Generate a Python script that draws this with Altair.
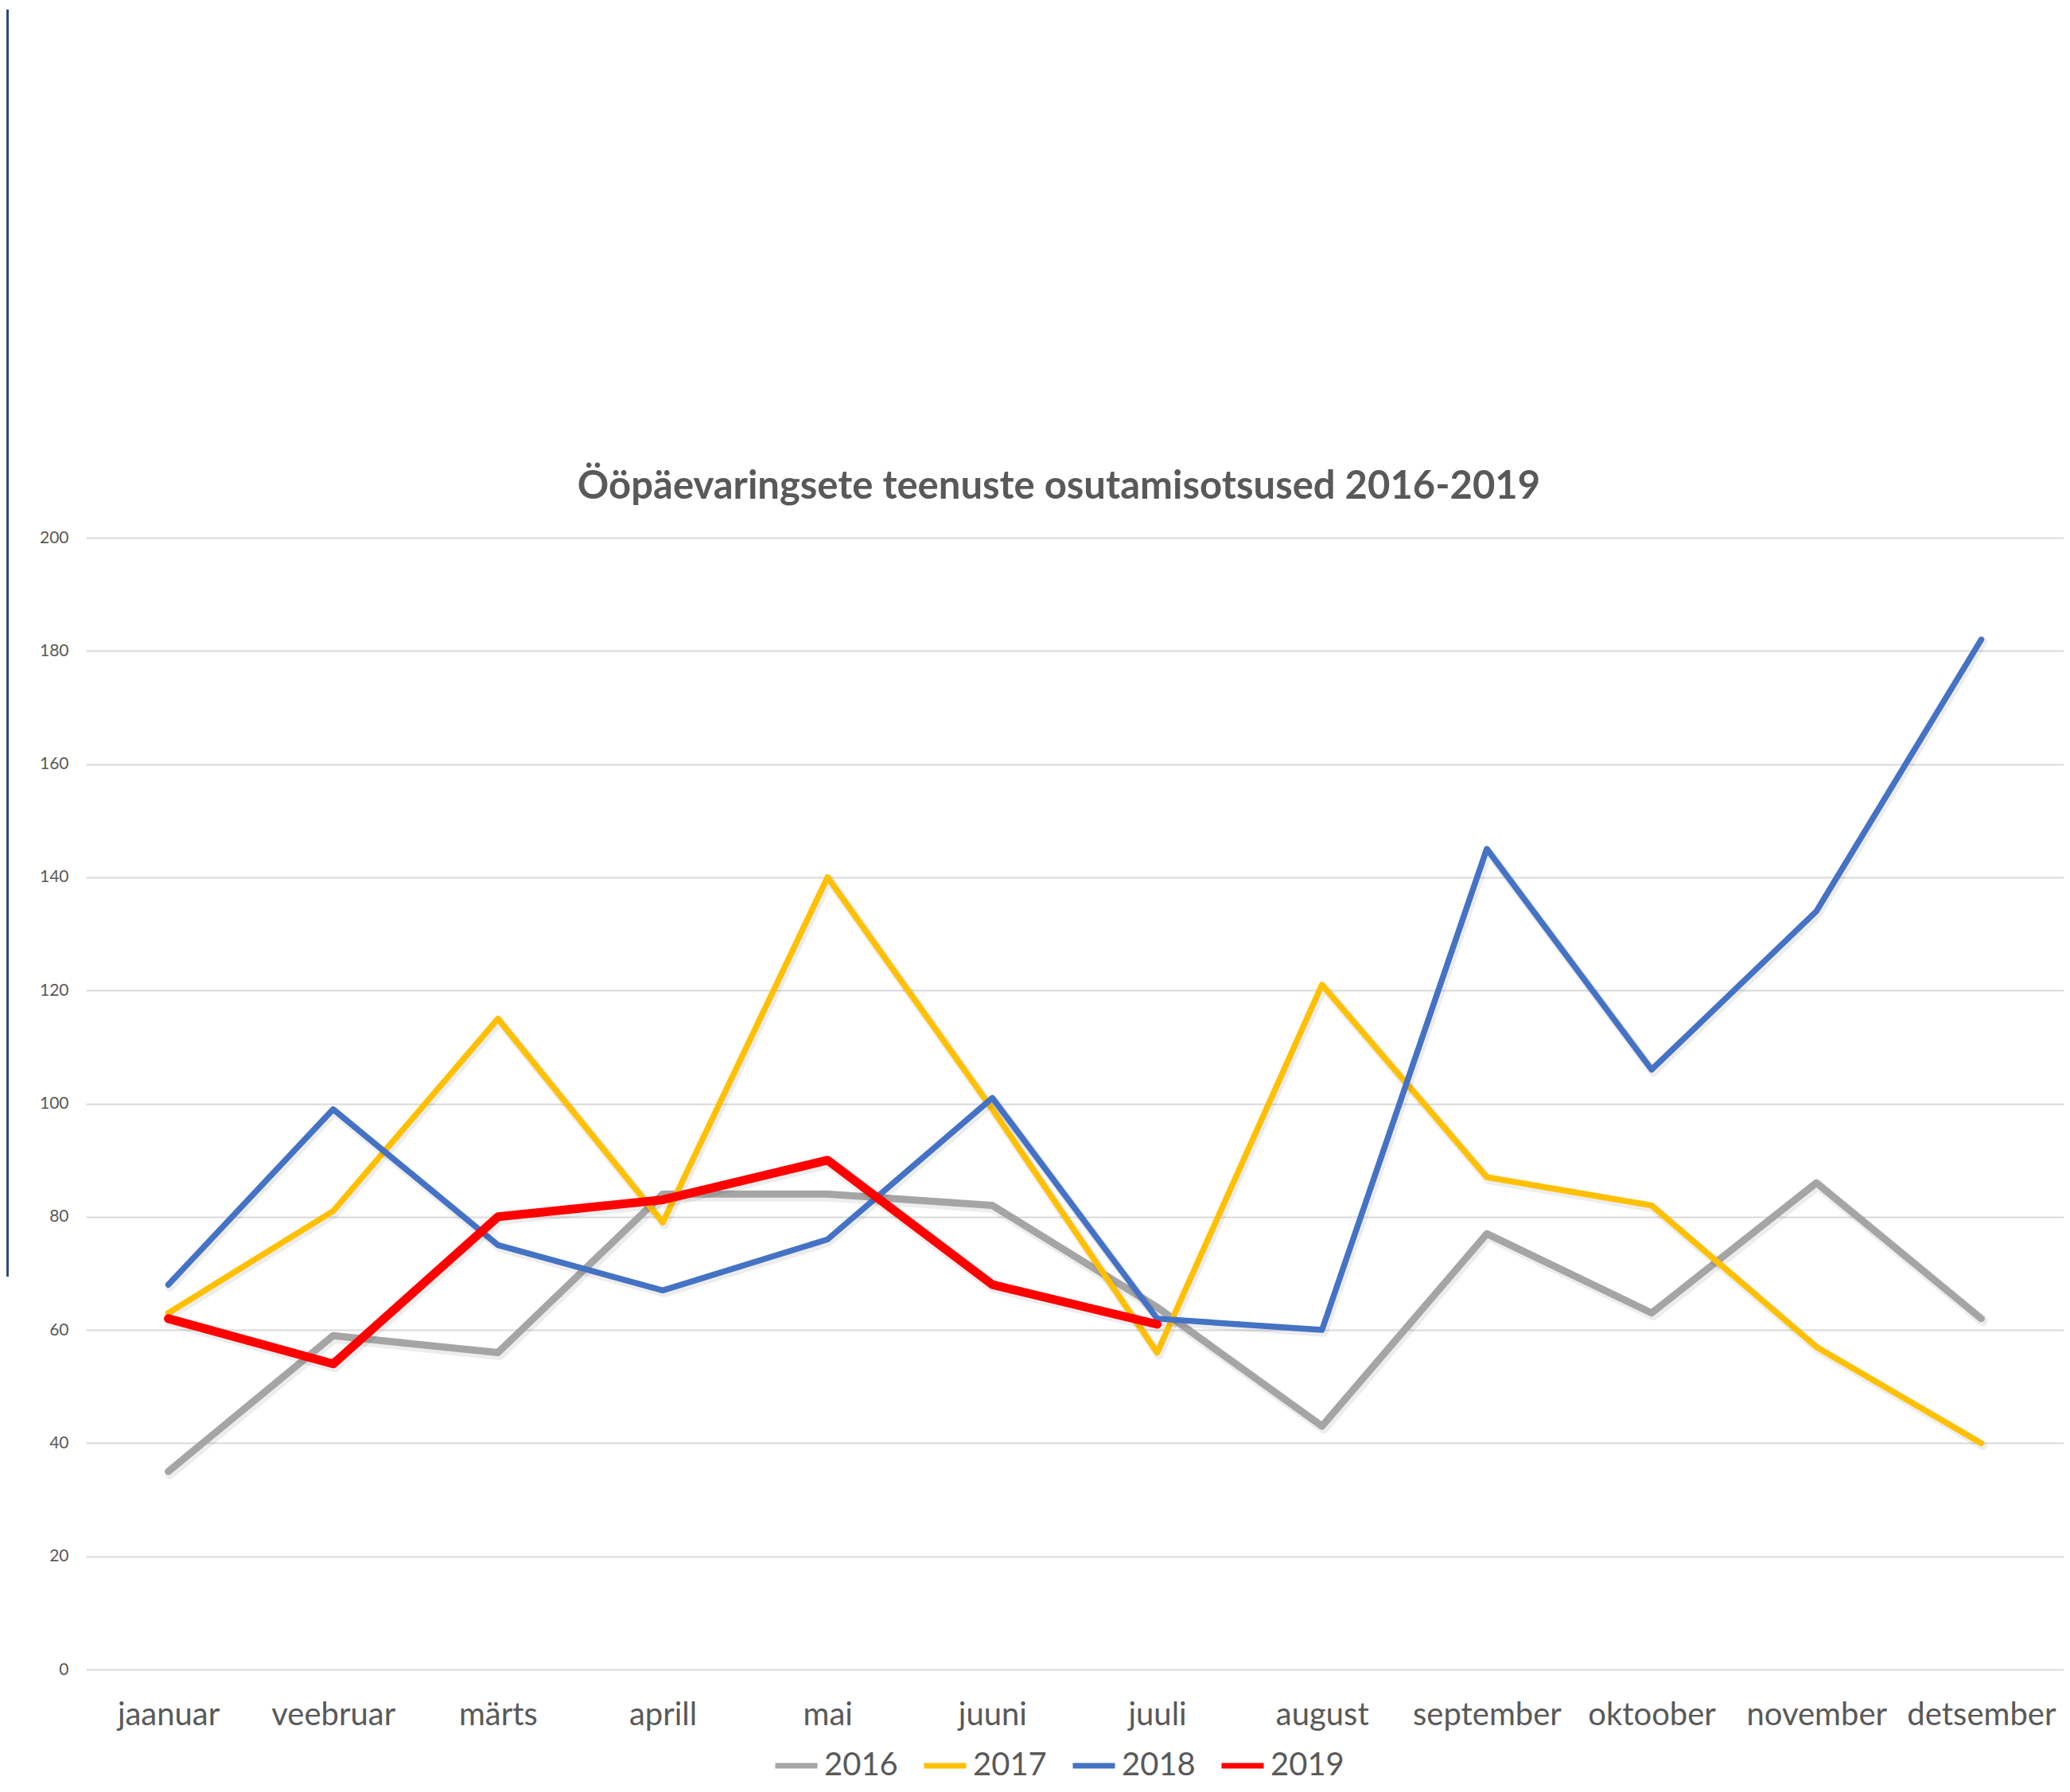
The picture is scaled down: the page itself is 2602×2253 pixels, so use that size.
import altair as alt
import pandas as pd

months = ["jaanuar", "veebruar", "märts", "aprill", "mai", "juuni", "juuli",
          "august", "september", "oktoober", "november", "detsember"]
years = ["2016", "2017", "2018", "2019"]
v2016 = [35, 59, 56, 84, 84, 82, 64, 43, 77, 63, 86, 62]
v2017 = [63, 81, 115, 79, 140, 99, 56, 121, 87, 82, 57, 40]
v2018 = [68, 99, 75, 67, 76, 101, 62, 60, 145, 106, 134, 182]
v2019 = [62, 54, 80, 83, 90, 68, 61]
y_ticks = [0, 20, 40, 60, 80, 100, 120, 140, 160, 180, 200]
title_text = "Ööpäevaringsete teenuste osutamisotsused 2016-2019"
colors = ["#A5A5A5", "#FFC000", "#4472C4", "#FF0000"]
widths = [9, 7.5, 7.5, 11]

rows = []
for yr, vals in zip(years, [v2016, v2017, v2018, v2019]):
    for m, v in zip(months, vals):
        rows.append({"kuu": m, "aasta": yr, "väärtus": v})
df = pd.DataFrame(rows)

FONT = "Lato"
TXT = "#595959"

x_enc = alt.X("kuu:N", sort=months, title=None,
              scale=alt.Scale(type="point", padding=0.5, domain=months),
              axis=alt.Axis(labelFontSize=40, labelColor=TXT, labelFont=FONT,
                            labelPadding=37, labelLimit=0, domain=False,
                            ticks=False, grid=False, labelAngle=0))
y_enc = alt.Y("väärtus:Q", title=None,
              scale=alt.Scale(domain=[0, 200], nice=False),
              axis=alt.Axis(values=y_ticks, labelFontSize=21, labelColor=TXT,
                            labelFont=FONT, labelPadding=22, domain=False,
                            ticks=False, grid=True, gridColor="#D9D9D9",
                            gridWidth=2))
color_enc = alt.Color("aasta:N", title=None,
                      scale=alt.Scale(domain=years, range=colors),
                      legend=alt.Legend(orient="none", direction="horizontal",
                                        legendX=863, legendY=1514,
                                        symbolType="stroke", symbolSize=2809,
                                        symbolStrokeWidth=7,
                                        labelFontSize=40, labelFont=FONT,
                                        labelColor=TXT, labelOffset=5,
                                        columnPadding=18, padding=0))

layers = []
for yr, w in zip(years, widths):
    base = alt.Chart(df).transform_filter(alt.datum.aasta == yr)
    layers.append(
        base.mark_line(strokeWidth=w + 4, strokeJoin="round", strokeCap="round",
                       color="#000000", opacity=0.07, xOffset=2, yOffset=3)
        .encode(x=x_enc, y=y_enc)
    )
    layers.append(
        base.mark_line(strokeWidth=w, strokeJoin="round", strokeCap="round")
        .encode(x=x_enc, y=y_enc, color=color_enc)
    )

one = pd.DataFrame({"t": [title_text]})
title = alt.Chart(one).mark_text(
    font=FONT, fontSize=49, fontWeight="bold", color=TXT,
    align="center", baseline="middle"
).encode(text="t:N", x=alt.value(1223), y=alt.value(-64))

border = alt.Chart(pd.DataFrame({"a": [0]})).mark_rule(
    color="#2E4A7D", strokeWidth=3
).encode(x=alt.value(-98.5), y=alt.value(-664), y2=alt.value(929))

chart = alt.layer(*layers, title, border).properties(
    width=2486, height=1423,
    autosize=alt.AutoSizeParams(type="none"),
    padding={"left": 100, "top": 668, "right": 0, "bottom": 145},
    background="white",
).configure_view(strokeWidth=0)

chart.save("out.html", embed_options={"renderer": "svg", "actions": False})
